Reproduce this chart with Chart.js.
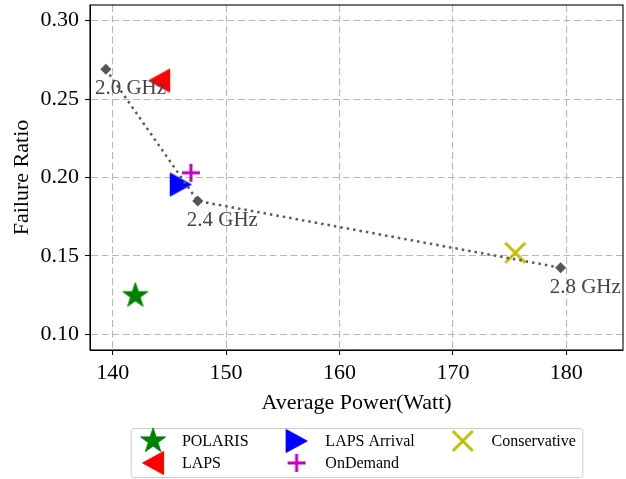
<!DOCTYPE html>
<html>
<head>
<meta charset="utf-8">
<script src="https://cdn.jsdelivr.net/npm/chart.js@4.4.1/dist/chart.umd.min.js"></script>
<style>
  html, body { margin: 0; padding: 0; background: #fff; }
</style>
</head>
<body>
<canvas id="failChart" width="626" height="479"></canvas>
<script>
// frequency sweep (dotted line)
const freqLabels = ['2.0 GHz', '2.4 GHz', '2.8 GHz'];
const freqPower = [139.4, 147.5, 179.5];
const freqFailure = [0.269, 0.185, 0.1425];

// policies
const policyNames = ['POLARIS', 'LAPS', 'LAPS Arrival', 'OnDemand', 'Conservative'];
const policyPower = [142.0, 144.1, 146.0, 146.9, 175.5];
const policyFailure = [0.1246, 0.2618, 0.1955, 0.203, 0.152];

// axes
const xTicks = [140, 150, 160, 170, 180];
const yTicks = [0.10, 0.15, 0.20, 0.25, 0.30];

const serif = '"Liberation Serif", "Times New Roman", serif';

// marker images (matplotlib-like shapes)
function makeMarker(draw) {
    const c = document.createElement('canvas');
    c.width = 30;
    c.height = 30;
    const g = c.getContext('2d');
    g.translate(15, 15);
    draw(g);
    return c;
}

const starImg = makeMarker(g => {
    const R = 13.1, r = R * 0.381966;
    g.beginPath();
    for (let k = 0; k < 10; k++) {
        const a = -Math.PI / 2 + k * Math.PI / 5;
        const rad = k % 2 ? r : R;
        g.lineTo(Math.cos(a) * rad, Math.sin(a) * rad);
    }
    g.closePath();
    g.fillStyle = '#008000';
    g.fill();
    g.strokeStyle = '#008000';
    g.stroke();
});

function triangle(dir, color) {
    return makeMarker(g => {
        g.beginPath();
        g.moveTo(-10.5 * dir, 0);
        g.lineTo(10.5 * dir, -11.5);
        g.lineTo(10.5 * dir, 11.5);
        g.closePath();
        g.fillStyle = color;
        g.fill();
        g.strokeStyle = color;
        g.stroke();
    });
}

const plusImg = makeMarker(g => {
    g.strokeStyle = '#bf00bf';
    g.lineWidth = 3;
    g.beginPath();
    g.moveTo(-9, 0); g.lineTo(9, 0);
    g.moveTo(0, -9); g.lineTo(0, 9);
    g.stroke();
});

const crossImg = makeMarker(g => {
    g.strokeStyle = '#bfbf00';
    g.lineWidth = 3;
    g.beginPath();
    g.moveTo(-10, -10); g.lineTo(10, 10);
    g.moveTo(-10, 10); g.lineTo(10, -10);
    g.stroke();
});

const markers = [starImg, triangle(1, '#ff0000'), triangle(-1, '#0000ff'), plusImg, crossImg];

const datasets = [{
    label: 'Frequency',
    data: freqPower.map((p, i) => ({ x: p, y: freqFailure[i] })),
    showLine: true,
    borderColor: '#5a5a5a',
    borderWidth: 2.5,
    borderDash: [2.5, 4],
    pointStyle: 'rectRot',
    pointRadius: 5.5,
    pointBackgroundColor: '#555555',
    pointBorderColor: '#555555',
    pointBorderWidth: 0
}];
policyNames.forEach((name, i) => {
    datasets.push({
        label: name,
        data: [{ x: policyPower[i], y: policyFailure[i] }],
        pointStyle: markers[i],
        pointRadius: 12
    });
});

// frame around plot area
const framePlugin = {
    id: 'frame',
    beforeDatasetsDraw(chart) {
        const { ctx, chartArea: a } = chart;
        ctx.save();
        ctx.strokeStyle = '#000';
        ctx.lineWidth = 1.1;
        ctx.strokeRect(a.left, a.top, a.right - a.left, a.bottom - a.top);
        ctx.restore();
    }
};

// GHz labels next to the frequency points
const freqLabelPlugin = {
    id: 'freqLabels',
    afterDatasetsDraw(chart) {
        const { ctx, scales } = chart;
        ctx.save();
        ctx.font = '21px ' + serif;
        ctx.fillStyle = '#444444';
        ctx.textAlign = 'left';
        ctx.textBaseline = 'top';
        freqLabels.forEach((t, i) => {
            const px = scales.x.getPixelForValue(freqPower[i]);
            const py = scales.y.getPixelForValue(freqFailure[i]);
            ctx.fillText(t, px - 11, py + 9);
        });
        ctx.restore();
    }
};

// legend below chart, 3 columns like matplotlib
const legendPlugin = {
    id: 'colLegend',
    afterDraw(chart) {
        const { ctx, chartArea: a } = chart;
        const em = 16;
        ctx.save();
        ctx.font = em + 'px ' + serif;
        const cols = [[0, 1], [2, 3], [4]];
        const handle = 2 * em, hpad = 0.8 * em, cspace = 2 * em, bpad = 0.4 * em;
        const colW = cols.map(c => Math.max(...c.map(i => ctx.measureText(policyNames[i]).width)));
        let total = 2 * bpad + 2 * cspace;
        colW.forEach(w => { total += handle + hpad + w; });
        const left = (a.left + a.right) / 2 - total / 2;
        const top = 428, h = 50;

        ctx.beginPath();
        ctx.roundRect(left + 0.5, top + 0.5, total, h - 1, 3);
        ctx.fillStyle = 'rgba(255,255,255,0.8)';
        ctx.fill();
        ctx.strokeStyle = '#cccccc';
        ctx.lineWidth = 1;
        ctx.stroke();

        let x0 = left + bpad;
        ctx.fillStyle = '#000';
        ctx.textAlign = 'left';
        ctx.textBaseline = 'middle';
        cols.forEach((c, ci) => {
            c.forEach((idx, r) => {
                const cy = top + 13 + r * 22;
                const img = markers[idx];
                ctx.drawImage(img, x0 + handle / 2 - img.width / 2, cy - img.height / 2);
                ctx.fillText(policyNames[idx], x0 + handle + hpad, cy + 1);
            });
            x0 += handle + hpad + colW[ci] + cspace;
        });
        ctx.restore();
    }
};

const gridStyle = { color: '#b8b8b8', lineWidth: 1.1, tickLength: 5, tickColor: '#000', tickWidth: 1 };
const borderStyle = { display: true, color: '#000', dash: [7, 3.5] };

const ctx = document.getElementById('failChart').getContext('2d');
const failChart = new Chart(ctx, {
    type: 'scatter',
    data: { datasets: datasets },
    plugins: [framePlugin, freqLabelPlugin, legendPlugin],
    options: {
        responsive: false,
        animation: false,
        events: [],
        layout: { autoPadding: false, padding: { top: 5, right: 3, bottom: 59, left: 0 } },
        plugins: {
            legend: { display: false },
            tooltip: { enabled: false }
        },
        scales: {
            x: {
                type: 'linear',
                min: 138,
                max: 185,
                afterBuildTicks: s => { s.ticks = xTicks.map(v => ({ value: v })); },
                afterFit: s => { s.height = 70; s.paddingLeft = 0; s.paddingRight = 0; },
                ticks: { font: { family: serif, size: 22 }, color: '#000', padding: 5, maxRotation: 0 },
                grid: gridStyle,
                border: borderStyle,
                title: {
                    display: true,
                    text: 'Average Power(Watt)',
                    color: '#000',
                    font: { family: serif, size: 22 },
                    padding: { top: 0, bottom: 4 }
                }
            },
            y: {
                type: 'linear',
                min: 0.09,
                max: 0.31,
                afterBuildTicks: s => { s.ticks = yTicks.map(v => ({ value: v })); },
                afterFit: s => { s.width = 90; s.paddingTop = 0; s.paddingBottom = 0; },
                ticks: {
                    font: { family: serif, size: 22 },
                    color: '#000',
                    padding: 6,
                    callback: v => v.toFixed(2)
                },
                grid: gridStyle,
                border: borderStyle,
                title: {
                    display: true,
                    text: 'Failure Ratio',
                    color: '#000',
                    font: { family: serif, size: 22 },
                    padding: { top: 9, bottom: 0 }
                }
            }
        }
    }
});
</script>
</body>
</html>
